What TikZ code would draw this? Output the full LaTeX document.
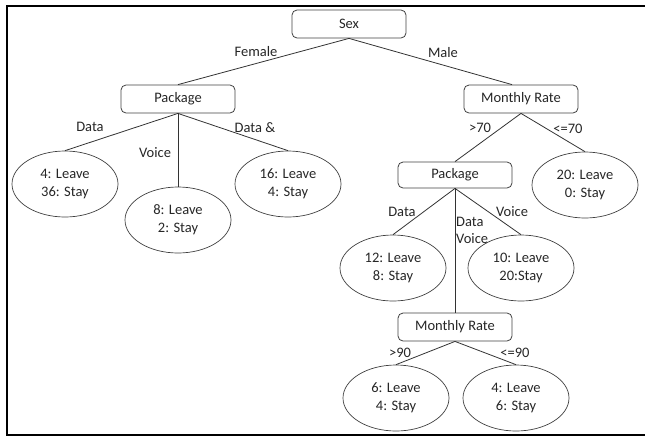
\documentclass[tikz,border=0pt]{standalone}
\usepackage{fontspec}
\setmainfont{Carlito}
\usetikzlibrary{shapes.geometric,calc}
\begin{document}
\begin{tikzpicture}[x=1pt,y=-1pt,
  every node/.style={font=\fontsize{14.5}{18}\selectfont, text=black!85},
  dbox/.style={draw=black!75, line width=0.8pt, rounded corners=5pt, minimum width=114pt, minimum height=28pt, inner sep=0pt},
  leaf/.style={draw=black!75, line width=0.7pt, ellipse, minimum width=106pt, minimum height=66pt, inner sep=0pt, align=center},
  conn/.style={draw=black!80, line width=0.8pt},
  lbl/.style={inner sep=0pt}]
\useasboundingbox (0,0) rectangle (645,437);
\draw[line width=2pt, black] (645,6) -- (7,6) -- (7,435) -- (645,435);

\node[dbox] (sex) at (349,24) {Sex};
\node[dbox] (pk1) at (178,99) {Package};
\node[dbox] (mr1) at (521,99) {Monthly Rate};
\node[leaf] (l1) at (65,184) {4: Leave\\36: Stay};
\node[leaf] (l2) at (178,220) {8: Leave\\2: Stay};
\node[leaf] (l3) at (288,184) {16: Leave\\4: Stay};
\node[dbox, minimum height=26pt] (pk2) at (455,175) {Package};
\node[leaf] (l4) at (585,185) {20: Leave\\0: Stay};
\node[leaf] (l5) at (393,268) {12: Leave\\8: Stay};
\node[leaf] (l6) at (521,268) {10: Leave\\20:Stay};
\node[dbox] (mr2) at (455,327) {Monthly Rate};
\node[leaf] (l7) at (396,398) {6: Leave\\4: Stay};
\node[leaf] (l8) at (516,398) {4: Leave\\6: Stay};

\draw[conn] (sex.south) -- (pk1.north);
\draw[conn] (sex.south) -- ($(mr1.north)+(-9,0)$);
\draw[conn] (pk1.south) -- (l1.north);
\draw[conn] (pk1.south) -- (l2.north);
\draw[conn] (pk1.south) -- (l3.north);
\draw[conn] (mr1.south) -- (pk2.north);
\draw[conn] (mr1.south) -- (l4.north);
\draw[conn] (pk2.south) -- (l5.north);
\draw[conn] (pk2.south) -- (mr2.north);
\draw[conn] (pk2.south) -- (l6.north);
\draw[conn] (mr2.south) -- (l7.north);
\draw[conn] (mr2.south) -- (l8.north);

\node[lbl] (tfem) at (256,52) {Female};
\node[lbl] (tmale) at (443,53) {Male};
\node[lbl] (td1) at (90,127) {Data};
\node[lbl] (tv1) at (155,153) {Voice};
\node[lbl] (tdv1) at (255,128) {Data \&};
\node[lbl] (tgt70) at (480,128) {>70};
\node[lbl] (tle70) at (568,129) {<=70};
\node[lbl] (td2) at (402,212) {Data};
\node[lbl, anchor=west, align=left, font=\fontsize{14.5}{17}\selectfont] (tdv2) at (456,230) {Data\\Voice};
\node[lbl] (tv2) at (512,212) {Voice};
\node[lbl] (tgt90) at (400,353) {>90};
\node[lbl] (tle90) at (515,353) {<=90};
\end{tikzpicture}
\end{document}
